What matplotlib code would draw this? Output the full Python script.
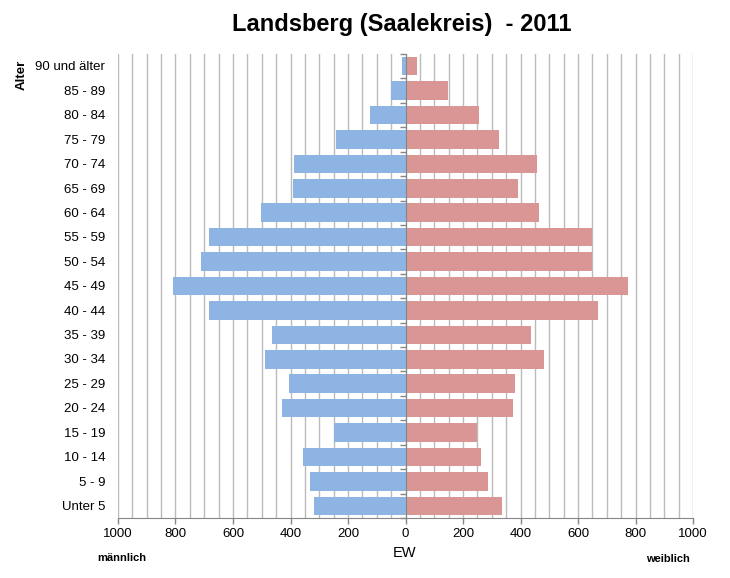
import matplotlib
matplotlib.use("Agg")
import matplotlib.pyplot as plt
from matplotlib.ticker import MultipleLocator, FuncFormatter
import matplotlib.transforms as mtransforms

plt.rcParams['font.family'] = ['Liberation Sans', 'DejaVu Sans']

categories = ["Unter 5", "5 - 9", "10 - 14", "15 - 19", "20 - 24", "25 - 29",
              "30 - 34", "35 - 39", "40 - 44", "45 - 49", "50 - 54", "55 - 59",
              "60 - 64", "65 - 69", "70 - 74", "75 - 79", "80 - 84", "85 - 89",
              "90 und älter"]
maennlich = [320, 331, 355, 249, 428, 404, 487, 463, 682, 810, 713, 685,
             501, 390, 387, 241, 123, 50, 12]
weiblich = [336, 287, 263, 250, 374, 381, 481, 436, 669, 773, 648, 648,
            464, 391, 457, 325, 256, 148, 40]

title = "Landsberg (Saalekreis)  - 2011"

fig = plt.figure(figsize=(7.30, 5.78), dpi=100)
ax = fig.add_axes([118/730, 60/578, 575/730, 464/578])

y = list(range(len(categories)))
ax.barh(y, [-v for v in maennlich], height=0.76, color="#8EB4E3", zorder=3)
ax.barh(y, weiblich, height=0.76, color="#D99694", zorder=3)

ax.set_xlim(-1000, 1000)
ax.set_ylim(-0.5, len(categories) - 0.5)

# grid every 50
ax.xaxis.set_minor_locator(MultipleLocator(50))
ax.xaxis.set_major_locator(MultipleLocator(200))
ax.grid(which="both", axis="x", color="#BBBBBB", linewidth=1, zorder=0)
ax.xaxis.set_major_formatter(FuncFormatter(lambda v, p: f"{abs(int(v))}"))
ax.tick_params(axis="x", which="major", length=4, width=1, color="#868686",
               labelsize=9.5, pad=3)
ax.tick_params(axis="x", which="minor", length=0)

for s in ["top", "right"]:
    ax.spines[s].set_visible(False)
ax.spines["bottom"].set_color("#868686")
ax.spines["left"].set_position(("data", 0))
ax.spines["left"].set_color("#868686")
ax.spines["left"].set_zorder(4)

# ticks at category boundaries on the zero line
bounds = [i - 0.5 for i in range(len(categories) + 1)]
ax.set_yticks(bounds)
ax.set_yticklabels([])
ax.tick_params(axis="y", length=4, width=1, color="#868686")

trans = mtransforms.blended_transform_factory(ax.transAxes, ax.transData)
for i, c in enumerate(categories):
    ax.text(-0.022, i - 0.05, c, transform=trans, ha="right", va="center", fontsize=9.5)

fig.text(402/730, 1 - 25/578, title, fontsize=17, fontweight="bold",
         ha="center", va="center")
fig.text(22/730, 1 - 75/578, "Alter", rotation=90, fontsize=9.5, fontweight="bold",
         ha="center", va="center")
fig.text(405/730, 1 - 553/578, "EW", fontsize=10.5, ha="center", va="center")
fig.text(122/730, 1 - 558/578, "männlich", fontsize=8, fontweight="bold",
         ha="center", va="center")
fig.text(668/730, 1 - 559/578, "weiblich", fontsize=8, fontweight="bold",
         ha="center", va="center")

fig.savefig("out.png", dpi=100)
